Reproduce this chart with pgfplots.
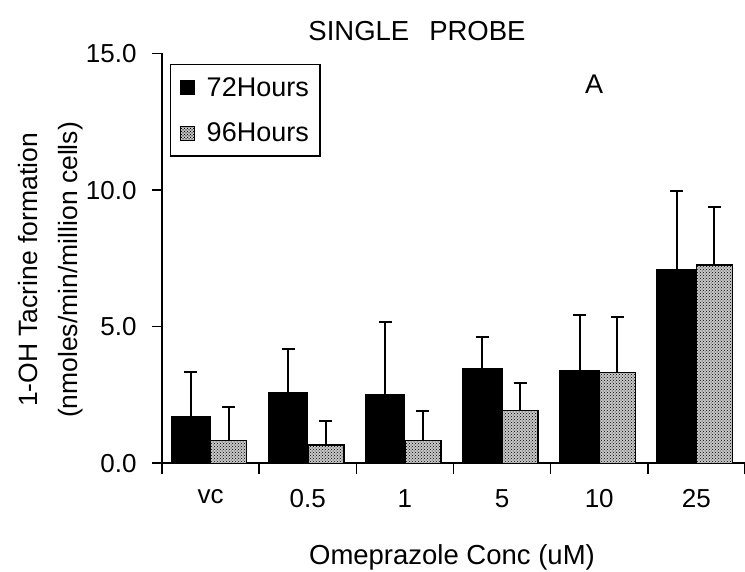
\documentclass[border=0pt]{standalone}
\usepackage{pgfplots}
\pgfplotsset{compat=1.18}
\usepackage{fontspec}
\setmainfont{Liberation Sans}
\usetikzlibrary{patterns}
\begin{document}
\begin{tikzpicture}[x=1pt,y=1pt]
\useasboundingbox (0,0) rectangle (745,571);
\begin{axis}[
  at={(162pt,107.7pt)}, anchor=south west,
  scale only axis, width=583pt, height=409.8pt,
  xmin=-0.5, xmax=5.5, ymin=0, ymax=15,
  enlarge x limits=false, enlarge y limits=false,
  axis lines*=left,
  axis line style={line width=1.6pt},
  xtick={0,...,5}, xticklabels={vc,0.5,1,5,10,25},
  major x tick style={draw=none},
  minor xtick={-0.5,0.5,...,5.5},
  minor tick length=11pt,
  minor x tick style={line width=1.6pt, black},
  ytick={0,5,10,15},
  yticklabels={0.0,5.0,10.0,15.0},
  major tick length=10pt,
  tick align=outside,
  y tick style={line width=1.6pt,black},
  tick label style={font=\fontsize{26}{26}\selectfont},
  yticklabel style={xshift=-12pt},
  xticklabel style={yshift=-13pt},
  ybar,
  legend style={at={(0.0137,0.975)}, anchor=north west, draw=black, line width=1.5pt,
    font=\fontsize{27}{27}\selectfont, inner xsep=9pt, inner ysep=11pt, row sep=21pt,
    cells={anchor=west},
    /tikz/every odd column/.append style={column sep=10pt}},
  legend cell align=left,
  error bars/y dir=plus, error bars/y explicit,
  error bars/error bar style={line width=2pt, black},
  error bars/error mark options={rotate=90, mark size=6.5pt, line width=2pt, black},
]
\addplot[fill=black, draw=black, line width=1pt, bar width=39.5pt, bar shift=-19.75pt,
  legend image code/.code={\fill[black] (4pt,-7pt) rectangle (18pt,7pt);}]
  table[x=x, y=y, y error=e] {
x y e
0 1.71 1.64
1 2.58 1.59
2 2.50 2.68
3 3.46 1.15
4 3.38 2.05
5 7.11 2.86
};
\addlegendentry{72Hours}
\addplot[fill=black!22, postaction={pattern=crosshatch dots, pattern color=black}, draw=black, line width=1.5pt, bar width=36pt, bar shift=18pt,
  legend image code/.code={\draw[fill=black!22, postaction={pattern=crosshatch dots}, line width=0.8pt] (4pt,-7pt) rectangle (18pt,7pt);}]
  table[x=x, y=y, y error=e] {
x y e
0 0.83 1.22
1 0.67 0.88
2 0.83 1.08
3 1.93 1.00
4 3.32 2.02
5 7.26 2.11
};
\addlegendentry{96Hours}
\end{axis}
\node[font=\fontsize{27.5}{27.5}\selectfont] at (417,540) {SINGLE\hspace{20pt}PROBE};
\node[font=\fontsize{27}{27}\selectfont] at (594,487) {A};
\node[font=\fontsize{27.5}{27.5}\selectfont, anchor=base] at (452,7) {Omeprazole Conc (uM)};
\node[font=\fontsize{26.5}{26.5}\selectfont, rotate=90, anchor=base] at (37,301) {1-OH Tacrine formation};
\node[font=\fontsize{26.5}{26.5}\selectfont, rotate=90, anchor=base] at (77,301) {(nmoles/min/million cells)};
\end{tikzpicture}
\end{document}
